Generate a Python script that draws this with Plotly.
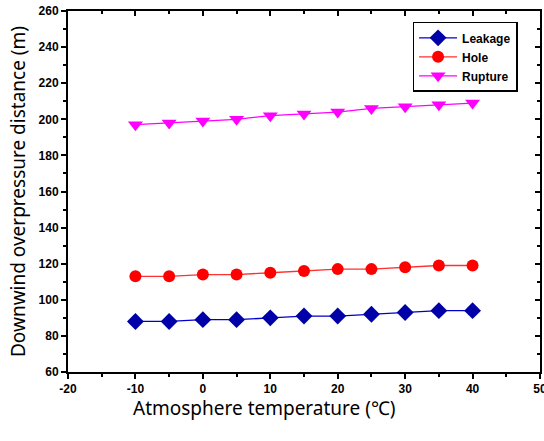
import plotly.graph_objects as go

temps = [-10, -5, 0, 5, 10, 15, 20, 25, 30, 35, 40]
leakage = [88, 88, 89, 89, 90, 91, 91, 92, 93, 94, 94]
hole = [113, 113, 114, 114, 115, 116, 117, 117, 118, 119, 119]
rupture = [197, 198, 199, 200, 202, 203, 204, 206, 207, 208, 209]

x_ticks = [-20, -10, 0, 10, 20, 30, 40, 50]
y_ticks = [60, 80, 100, 120, 140, 160, 180, 200, 220, 240, 260]

fig = go.Figure()
fig.add_trace(go.Scatter(x=temps, y=leakage, name="Leakage", mode="lines+markers",
                         line=dict(color="#0000CC", width=1.3),
                         marker=dict(symbol="diamond", size=13, color="#0000A8")))
fig.add_trace(go.Scatter(x=temps, y=hole, name="Hole", mode="lines+markers",
                         line=dict(color="#FF3030", width=1.3),
                         marker=dict(symbol="circle", size=12, color="#FF0000")))
fig.add_trace(go.Scatter(x=temps, y=rupture, name="Rupture", mode="lines+markers",
                         line=dict(color="#FF00FF", width=1.3),
                         marker=dict(symbol="triangle-down", size=13, color="#FF00FF")))
# invisible trace to activate mirrored axes
fig.add_trace(go.Scatter(x=[None], y=[None], xaxis="x2", yaxis="y2", showlegend=False))

tickfont = dict(family="Arial, Liberation Sans, sans-serif", size=12, color="black", weight="bold")
fig.update_layout(
    width=544, height=441,
    margin=dict(l=68, r=4, t=11, b=69, autoexpand=False),
    plot_bgcolor="white", paper_bgcolor="white",
    showlegend=True,
    legend=dict(x=0.73, y=0.97, xanchor="left", yanchor="top",
                bordercolor="black", borderwidth=1.5, bgcolor="white",
                font=dict(family="Arial, Liberation Sans, sans-serif", size=12, color="black", weight="bold"),
                itemwidth=38, tracegroupgap=0),
    xaxis=dict(range=[-20, 50], tickvals=x_ticks, ticktext=[str(v) for v in x_ticks],
               automargin=False, ticklabeloverflow="allow",
               showline=True, linecolor="black", linewidth=2, ticks="outside",
               ticklen=5, tickwidth=1.5, tickcolor="black", showgrid=False, zeroline=False,
               minor=dict(dtick=5, ticks="outside", ticklen=3, tickwidth=1.5, tickcolor="black"),
               tickfont=tickfont),
    yaxis=dict(range=[60, 260], tickvals=y_ticks, ticktext=[str(v) for v in y_ticks],
               automargin=False, ticklabeloverflow="allow",
               showline=True, linecolor="black", linewidth=2, ticks="outside",
               ticklen=5, tickwidth=1.5, tickcolor="black", showgrid=False, zeroline=False,
               minor=dict(dtick=10, ticks="outside", ticklen=3, tickwidth=1.5, tickcolor="black"),
               tickfont=tickfont,
               title=dict(text="Downwind overpressure distance (m)", standoff=8,
                          font=dict(family="Noto Sans, sans-serif", size=19, color="black"))),
    xaxis2=dict(range=[-20, 50], overlaying="x", side="top", tickvals=x_ticks,
                automargin=False,
                showticklabels=False, showline=True, linecolor="black", linewidth=2,
                ticks="inside", ticklen=5, tickwidth=1.5, tickcolor="black",
                minor=dict(dtick=5, ticks="inside", ticklen=3, tickwidth=1.5, tickcolor="black"),
                showgrid=False, zeroline=False),
    yaxis2=dict(range=[60, 260], overlaying="y", side="right", tickvals=y_ticks,
                automargin=False,
                showticklabels=False, showline=True, linecolor="black", linewidth=2,
                ticks="inside", ticklen=5, tickwidth=1.5, tickcolor="black",
                minor=dict(dtick=10, ticks="inside", ticklen=3, tickwidth=1.5, tickcolor="black"),
                showgrid=False, zeroline=False),
    annotations=[dict(text="Atmosphere temperature (℃)", xref="paper", yref="paper",
                      x=0.417, y=-0.0997, xanchor="center", yanchor="middle", showarrow=False,
                      font=dict(family="Noto Sans, sans-serif", size=19, color="black"))],
)

fig.write_html("out.html", config={"displayModeBar": False},
               post_script="document.body.style.margin='0';")
